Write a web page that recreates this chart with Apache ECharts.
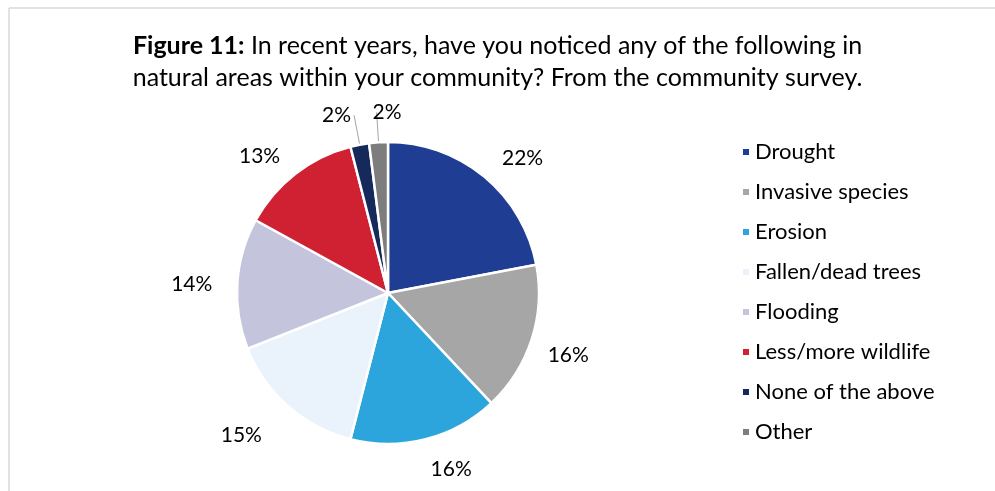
<!DOCTYPE html>
<html>
<head>
<meta charset="utf-8">
<script src="https://cdn.jsdelivr.net/npm/echarts@6/dist/echarts.min.js"></script>
<style>html,body{margin:0;padding:0;background:#fff;}#c{width:995px;height:491px;}</style>
</head>
<body>
<div id="c"></div>
<script>
const categories = ["Drought", "Invasive species", "Erosion", "Fallen/dead trees", "Flooding", "Less/more wildlife", "None of the above", "Other"];
const values = [22, 16, 16, 15, 14, 13, 2, 2];
const colors = ["#1f3e93", "#a6a6a6", "#2ca4dc", "#eaf3fb", "#c4c5dd", "#cf2131", "#15295b", "#7d7d7d"];
const titleBold = "Figure 11:";
const titleLine1 = " In recent years, have you noticed any of the following in";
const titleLine2 = "natural areas within your community? From the community survey.";

const FONT = "Lato";
// label nudges (dx, dy) to mimic the original's label placement
const labelNudge = [[0, -3], [-8, 9], [-5, 11], [-8, 14], [0, 2], [2, -2], [2, 0], [30, 0]];
const chart = echarts.init(document.getElementById('c'), null, {renderer: 'canvas'});
const data = categories.map((n, i) => ({
  name: n, value: values[i],
  itemStyle: {color: colors[i]},
  labelLine: {show: values[i] < 5, length: values[i] < 5 ? 30 : 20}
}));
chart.setOption({
  backgroundColor: '#ffffff',
  animation: false,
  title: {
    text: '{b|' + titleBold + '}{n|' + titleLine1 + '}\n{n|' + titleLine2 + '}',
    left: 'center', top: 25,
    textStyle: {
      fontWeight: 'normal',
      rich: {
        b: {fontFamily: FONT, fontSize: 25, fontWeight: 'bold', color: '#000', lineHeight: 32},
        n: {fontFamily: FONT, fontSize: 25, fontWeight: 'normal', color: '#000', lineHeight: 32}
      }
    }
  },
  legend: {
    orient: 'vertical', left: 741, top: 141, padding: 0,
    itemWidth: 8, itemHeight: 8, itemGap: 18, itemTextGap: 8,
    icon: 'rect',
    textStyle: {fontFamily: FONT, fontSize: 22, color: '#000', lineHeight: 20},
    data: categories
  },
  graphic: [
    {type: 'line', shape: {x1: 9, y1: 8, x2: 995, y2: 8}, style: {stroke: '#d9d9d9', lineWidth: 1.5}},
    {type: 'line', shape: {x1: 9, y1: 8, x2: 9, y2: 491}, style: {stroke: '#d9d9d9', lineWidth: 1.5}}
  ],
  series: [{
    type: 'pie',
    center: [388, 293],
    radius: [0, 151],
    startAngle: 90,
    clockwise: true,
    avoidLabelOverlap: false,
    itemStyle: {borderColor: '#fff', borderWidth: 2.5},
    label: {
      show: true, position: 'outside',
      formatter: '{d}%',
      fontFamily: FONT, fontSize: 21, color: '#000'
    },
    labelLine: {length: 20, length2: 0, lineStyle: {color: '#a6a6a6', width: 1}},
    labelLayout: function (p) {
      const nd = labelNudge[p.dataIndex] || [0, 0];
      return {dx: nd[0], dy: nd[1], hideOverlap: false, moveOverlap: null};
    },
    data: data
  }]
});
</script>
</body>
</html>
